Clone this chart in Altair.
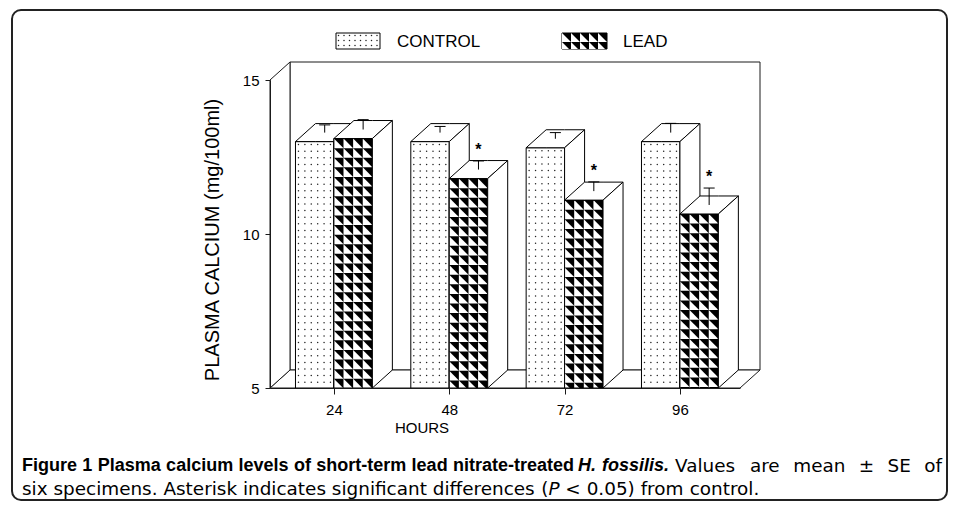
import altair as alt
import pandas as pd

# ---------------- data ----------------
hours = [24, 48, 72, 96]
control_mean = [13.0, 13.0, 12.8, 13.0]
lead_mean = [13.1, 11.8, 11.1, 10.65]
control_se = [0.25, 0.2, 0.2, 0.3]
lead_se = [0.32, 0.28, 0.3, 0.55]
lead_significant = [False, True, True, True]
y_ticks = [5, 10, 15]
legend_labels = ["CONTROL", "LEAD"]
x_title = "HOURS"
y_title = "PLASMA CALCIUM (mg/100ml)"
caption_line1 = [
    ("Figure 1 Plasma calcium levels of short-term lead nitrate-treated", "bold", "normal"),
    ("H. fossilis.", "bold", "italic"),
    ("Values are mean \u00b1 SE of", "normal", "normal"),
]
caption_line2 = [
    ("six specimens. Asterisk indicates significant differences (", "normal", "normal"),
    ("P", "normal", "italic"),
    (" < 0.05) from control.", "normal", "normal"),
]

# ---------------- layout ----------------
W, H = 470, 308
X_DOM = [10.7, 108.5]
Y_DOM = [5, 15]
BAR_W = 8.0
PX_X = W / (X_DOM[1] - X_DOM[0])
PX_Y = H / (Y_DOM[1] - Y_DOM[0])
DX = 20 / PX_X
DY = 18 / PX_Y
OX, OY = 270, 80          # page position of plot origin
FONT = "Liberation Sans"
REG_FONT = "DejaVu Sans"
LINE = "#1a1a1a"
CAP_BOLD = 18.0
CAP_REG = 18.4
# page spans of the three runs of caption line 1 (justified line)
LINE1_SPANS = [(22, 574), (578, 669), (675, 942)]

# Liberation Sans Bold advance widths (1/1000 em)
_BOLD = dict(zip(" ().,-<\u00b1/0123456789", [278, 333, 333, 278, 278, 333, 584, 549, 278] + [556] * 10))
_BOLD.update(dict(zip("ABCDEFGHIJKLMNOPQRSTUVWXYZ",
                      [722, 722, 722, 722, 667, 611, 778, 722, 278, 556, 722, 611, 833, 722, 778, 667,
                       778, 722, 667, 611, 722, 667, 944, 667, 667, 611])))
_BOLD.update(dict(zip("abcdefghijklmnopqrstuvwxyz",
                      [556, 611, 556, 611, 556, 333, 611, 611, 278, 278, 556, 278, 889, 611, 611, 611,
                       611, 389, 556, 333, 611, 556, 778, 556, 556, 500])))
# DejaVu Sans advance widths (1/1000 em)
_REG = dict(zip(" ().,-<\u00b1/0123456789", [318, 390, 390, 318, 318, 361, 838, 838, 337] + [636] * 10))
_REG.update(dict(zip("ABCDEFGHIJKLMNOPQRSTUVWXYZ",
                     [684, 686, 698, 770, 632, 575, 775, 752, 295, 295, 656, 557, 863, 748, 787, 603,
                      787, 695, 635, 611, 732, 684, 989, 685, 611, 685])))
_REG.update(dict(zip("abcdefghijklmnopqrstuvwxyz",
                     [613, 635, 550, 635, 615, 352, 635, 634, 278, 278, 579, 278, 974, 634, 612, 635,
                      635, 411, 521, 392, 634, 592, 818, 592, 592, 525])))


def text_w(s, weight, size):
    tab = _BOLD if weight == "bold" else _REG
    return sum(tab.get(ch, 600) for ch in s) * size / 1000.0


def px_to_x(px):
    return X_DOM[0] + (px - OX) / PX_X


def py_to_y(py):
    return Y_DOM[0] + (OY + H - py) / PX_Y


XS = alt.Scale(domain=X_DOM, nice=False, zero=False)
YS = alt.Scale(domain=Y_DOM, nice=False, zero=False)
XAX = alt.Axis(values=hours, title=None, grid=False, tickSize=6, labelPadding=8,
               labelFontSize=15, labelFont=FONT, labelColor="black",
               domainColor=LINE, tickColor=LINE, labelFlush=False, zindex=1)
YAX = alt.Axis(values=y_ticks, title=None, grid=False, tickSize=5, labelPadding=6,
               labelFontSize=15, labelFont=FONT, labelColor="black",
               domainColor=LINE, tickColor=LINE, labelFlush=False, zindex=1)


def ex(f="x"):
    return alt.X(f"{f}:Q", scale=XS, axis=XAX)


def ey(f="y"):
    return alt.Y(f"{f}:Q", scale=YS, axis=YAX, stack=None)


# ---------------- geometry builders ----------------
def prism_faces(x0, x1, v, tag):
    rows = []
    for x, lo, hi in [(x0, v, v), (x0 + DX, v, v + DY), (x1, v, v + DY), (x1 + DX, v + DY, v + DY)]:
        rows.append(dict(id=tag + "top", x=x, lo=lo, hi=hi))
    for x, lo, hi in [(x1, Y_DOM[0], v), (x1 + DX, Y_DOM[0] + DY, v + DY)]:
        rows.append(dict(id=tag + "side", x=x, lo=lo, hi=hi))
    return rows


def dot_grid(x0, x1, ylo, yhi, sx=6.4, sy=6.6, inset=3.0):
    rows = []
    xs = []
    p = inset
    width_px = (x1 - x0) * PX_X
    while p < width_px - 1.5:
        xs.append(x0 + p / PX_X)
        p += sx
    q = inset
    height_px = (yhi - ylo) * PX_Y
    while q < height_px - 1.5:
        for x in xs:
            rows.append(dict(x=x, y=yhi - q / PX_Y))
        q += sy
    return rows


def tri_grid(x0, x1, ylo, yhi, ncols, tag):
    rows = []
    cw = (x1 - x0) / ncols
    ch = cw * PX_X / PX_Y
    yt = yhi
    k = 0
    while yt > ylo + 1e-6:
        yb = yt - ch
        for c in range(ncols):
            xa = x0 + c * cw
            xb = xa + cw
            tid = f"{tag}{k}"
            if yb >= ylo:
                rows.append(dict(id=tid, x=xa, lo=yb, hi=yt))
                rows.append(dict(id=tid, x=xb, lo=yb, hi=yb))
            else:
                t = (yt - ylo) / (yt - yb)
                rows.append(dict(id=tid, x=xa, lo=ylo, hi=yt))
                rows.append(dict(id=tid, x=xa + t * cw, lo=ylo, hi=ylo))
            k += 1
        yt = yb
    return rows


# ---------------- frames of the 3-D box ----------------
xL, xR = X_DOM
y0, y1 = Y_DOM
back = pd.DataFrame([dict(x=xL + DX, x2=xR + DX, y=y0 + DY, y2=y1 + DY)])
box_faces = pd.DataFrame(
    [dict(id="floor", x=x, lo=lo, hi=hi) for x, lo, hi in
     [(xL, y0, y0), (xL + DX, y0, y0 + DY), (xR, y0, y0 + DY), (xR + DX, y0 + DY, y0 + DY)]]
    + [dict(id="left", x=x, lo=lo, hi=hi) for x, lo, hi in
       [(xL, y0, y1), (xL + DX, y0 + DY, y1 + DY)]]
)

ctrl_rect, lead_rect, ctrl_faces, lead_faces, ctrl_dots, lead_tris = [], [], [], [], [], []
err, caps, stars = [], [], []
for i, h in enumerate(hours):
    c0, c1 = h - BAR_W, h
    l0, l1 = h, h + BAR_W
    cv, lv = control_mean[i], lead_mean[i]
    ctrl_rect.append(dict(x=c0, x2=c1, y=y0, y2=cv))
    lead_rect.append(dict(x=l0, x2=l1, y=y0, y2=lv))
    ctrl_faces += prism_faces(c0, c1, cv, f"c{i}")
    lead_faces += prism_faces(l0, l1, lv, f"l{i}")
    ctrl_dots += dot_grid(c0, c1, y0, cv)
    lead_tris += tri_grid(l0, l1, y0, lv, 4, f"t{i}_")
    for (a, b, v, se, sig) in [(c0, c1, cv, control_se[i], False),
                               (l0, l1, lv, lead_se[i], lead_significant[i])]:
        xc = (a + b) / 2 + DX / 2
        vc = v + DY / 2
        err.append(dict(x=xc, y=vc, y2=vc + se))
        caps.append(dict(x=xc - 1.15, x2=xc + 1.15, y=vc + se))
        if sig:
            stars.append(dict(x=xc, y=vc + se, t="*"))

# legend swatches (page boxes converted to data space)
sw_c = (px_to_x(336), px_to_x(380), py_to_y(49), py_to_y(33))
sw_l = (px_to_x(562), px_to_x(607), py_to_y(49), py_to_y(33))
leg_rect_c = pd.DataFrame([dict(x=sw_c[0], x2=sw_c[1], y=sw_c[2], y2=sw_c[3])])
leg_rect_l = pd.DataFrame([dict(x=sw_l[0], x2=sw_l[1], y=sw_l[2], y2=sw_l[3])])
ctrl_dots += dot_grid(*sw_c, sx=5.5, sy=5.0, inset=2.5)
lead_tris += tri_grid(*sw_l, 5, "leg")


def rects(df, **kw):
    return alt.Chart(pd.DataFrame(df)).mark_rect(**kw).encode(
        x=ex(), x2="x2:Q", y=ey(), y2="y2:Q")


def areas(df, **kw):
    return alt.Chart(pd.DataFrame(df)).mark_area(orient="vertical", **kw).encode(
        x=ex(), y=ey("lo"), y2="hi:Q", detail="id:N")


one = pd.DataFrame([{"a": 1}])


def label(text, px, py, size=15, weight="normal", style="normal", align="left",
          angle=0, font=FONT):
    return alt.Chart(one).mark_text(
        text=text, fontSize=size, fontWeight=weight, fontStyle=style, font=font,
        align=align, baseline="middle", angle=angle, color="black"
    ).encode(x=alt.value(px - OX), y=alt.value(py - OY))


layers = [
    rects(back, fill="white", stroke=LINE, strokeWidth=1),
    areas(box_faces, fill="white", stroke=LINE, strokeWidth=1),
    rects(ctrl_rect, fill="white", stroke="black", strokeWidth=1),
    rects(leg_rect_c, fill="white", stroke="black", strokeWidth=1),
    alt.Chart(pd.DataFrame(ctrl_dots)).mark_circle(size=2.2, color="#222", opacity=1).encode(
        x=ex(), y=ey()),
    areas(ctrl_faces, fill="white", stroke="black", strokeWidth=1),
    rects(lead_rect, fill="black", stroke="black", strokeWidth=1),
    rects(leg_rect_l, fill="black", stroke="black", strokeWidth=1),
    areas(lead_tris, fill="white", strokeWidth=0),
    rects(lead_rect, fill="transparent", stroke="black", strokeWidth=1),
    areas(lead_faces, fill="white", stroke="black", strokeWidth=1),
    alt.Chart(pd.DataFrame(err)).mark_rule(color="black", strokeWidth=1).encode(
        x=ex(), y=ey(), y2="y2:Q"),
    alt.Chart(pd.DataFrame(caps)).mark_rule(color="black", strokeWidth=1).encode(
        x=ex(), x2="x2:Q", y=ey()),
    alt.Chart(pd.DataFrame(stars)).mark_text(fontSize=16, fontWeight="bold", dy=-3,
                                             baseline="bottom", font=FONT).encode(
        x=ex(), y=ey(), text="t:N"),
    label(legend_labels[0], 397, 42, size=17),
    label(legend_labels[1], 623, 42, size=17),
    label(y_title, 213, 240, size=20, align="center", angle=270),
    label(x_title, 422, 428, size=15, align="center"),
]


# ---------------- caption ----------------
def run_words(txt, wt):
    size = CAP_BOLD if wt == "bold" else CAP_REG
    return [(p, text_w(p, wt, size), size) for p in txt.split(" ") if p]


def cap_font(wt):
    return FONT if wt == "bold" else REG_FONT


# line 1: each run spread over its span in the (justified) reference line
for (txt, wt, st), (a, b) in zip(caption_line1, LINE1_SPANS):
    words = run_words(txt, wt)
    total = sum(w for _, w, _ in words)
    gap = (b - a - total) / max(len(words) - 1, 1)
    x = a
    for t, w, size in words:
        layers.append(label(t, x, 466, size=size, weight=wt, style=st, font=cap_font(wt)))
        x += w + gap

# line 2: natural spacing
x = 22
for k, (txt, wt, st) in enumerate(caption_line2):
    words = run_words(txt, wt)
    lead_space = txt.startswith(" ")
    for j, (t, w, size) in enumerate(words):
        if j > 0 or (lead_space and k > 0):
            x += text_w(" ", "normal", CAP_REG)
        layers.append(label(t, x, 489, size=size, weight=wt, style=st, font=cap_font(wt)))
        x += w

layers.append(
    alt.Chart(one).mark_rect(fill="transparent", stroke="#222", strokeWidth=2, cornerRadius=9).encode(
        x=alt.value(12 - OX), x2=alt.value(947 - OX), y=alt.value(10 - OY), y2=alt.value(500 - OY))
)

chart = alt.layer(*layers).properties(
    width=W, height=H,
    padding={"left": OX - 8, "top": OY - 8, "right": 943 - (OX - 8) - W, "bottom": 495 - (OY - 8) - H},
    autosize=alt.AutoSizeParams(type="none"),
    background="white",
).configure_view(strokeWidth=0)

chart.save("out.html", embed_options={"renderer": "svg", "actions": False})
